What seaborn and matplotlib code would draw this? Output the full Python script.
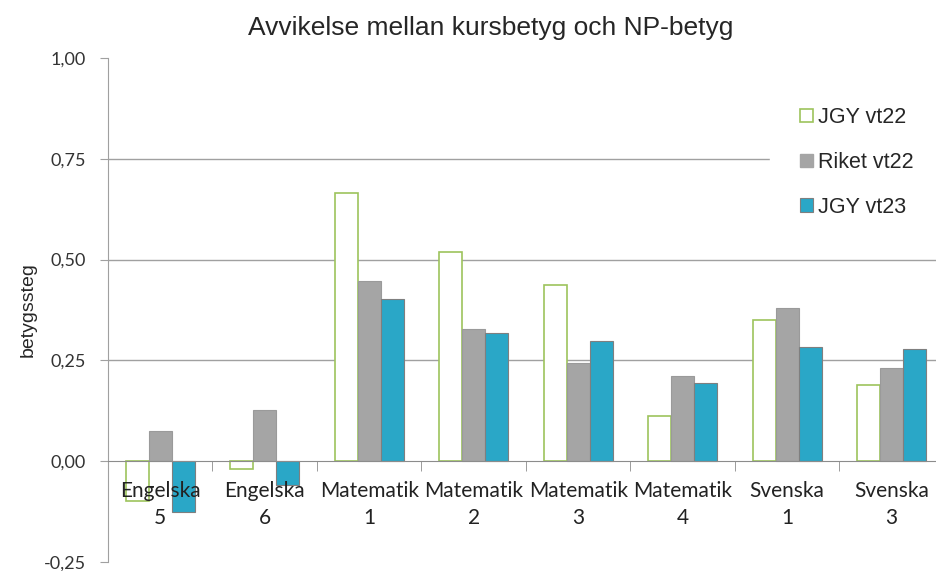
import pandas as pd
import seaborn as sns
import matplotlib.pyplot as plt
from matplotlib.patches import Patch

# data
categories = ["Engelska\n5", "Engelska\n6", "Matematik\n1", "Matematik\n2",
              "Matematik\n3", "Matematik\n4", "Svenska\n1", "Svenska\n3"]
series = ["JGY vt22", "Riket vt22", "JGY vt23"]
jgy_vt22 = [-0.10, -0.02, 0.666, 0.52, 0.438, 0.111, 0.349, 0.188]
riket_vt22 = [0.074, 0.126, 0.448, 0.327, 0.243, 0.21, 0.381, 0.23]
jgy_vt23 = [-0.126, -0.06, 0.403, 0.319, 0.297, 0.193, 0.282, 0.277]
yticks = [-0.25, 0.0, 0.25, 0.5, 0.75, 1.0]
ytick_labels = ["-0,25", "0,00", "0,25", "0,50", "0,75", "1,00"]

green = "#9dc35c"
grey = "#a5a5a5"
blue = "#2aa7c7"

df = pd.DataFrame({
    "kurs": categories * 3,
    "serie": [s for s in series for _ in categories],
    "varde": jgy_vt22 + riket_vt22 + jgy_vt23,
})

sns.set_style("white")
plt.rcParams['font.family'] = ['Liberation Sans', 'DejaVu Sans']

fig = plt.figure(figsize=(9.36, 5.71), dpi=100)
ax = fig.add_axes([0.1154, 0.0158, 0.893, 0.8827])

sns.barplot(data=df, x="kurs", y="varde", hue="serie", order=categories,
            hue_order=series, palette=["white", grey, blue], width=0.66,
            saturation=1, legend=False, ax=ax, zorder=2)

for cont, ec in zip(ax.containers, [green, "#9a9a9a", "#7f7f7f"]):
    for bar in cont:
        bar.set_edgecolor(ec)
        bar.set_linewidth(1.2 if ec == green else 0.8)

# gridlines behind bars
for y in [0.25, 0.5, 0.75]:
    ax.axhline(y, color="#a0a0a0", lw=1, zorder=0)

ax.set_ylim(-0.25, 1.0)
ax.set_xlim(-0.5, len(categories) - 0.5)
ax.set_yticks(yticks)
ax.set_yticklabels(ytick_labels, family=['Lato', 'DejaVu Sans'], fontsize=13, color="#333333")
ax.tick_params(axis="y", length=6, color="#a0a0a0", direction="out", pad=10, left=True)

# category labels sit at the zero line, ticks between categories
ax.spines["bottom"].set_position(("data", 0))
ax.spines["bottom"].set_color("#8c8c8c")
ax.spines["left"].set_color("#a0a0a0")
ax.spines["top"].set_visible(False)
ax.spines["right"].set_visible(False)
ax.set_xticks([i - 0.5 for i in range(1, len(categories))], minor=True)
ax.tick_params(axis="x", which="minor", length=7, color="#8c8c8c", direction="out", bottom=True)
ax.tick_params(axis="x", which="major", length=0, pad=14)
ax.set_xticklabels(categories, family=['Lato', 'DejaVu Sans'], fontsize=15,
                   color="#222222", linespacing=1.45)
ax.xaxis.set_zorder(3)

ax.set_xlabel("")
ax.set_ylabel("betygssteg", fontsize=14)
ax.yaxis.set_label_coords(-0.085, 0.5)

fig.suptitle("Avvikelse mellan kursbetyg och NP-betyg", fontsize=19, y=0.972, x=0.524)

handles = [Patch(facecolor="white", edgecolor=green, lw=1.2),
           Patch(facecolor=grey, edgecolor=grey),
           Patch(facecolor=blue, edgecolor="#7f7f7f", lw=0.8)]
leg = ax.legend(handles, series, loc="upper right", bbox_to_anchor=(1.0, 0.962),
                frameon=True, fontsize=15.5, handlelength=0.6, handleheight=0.6,
                handletextpad=0.25, labelspacing=1.1, borderpad=1.4, borderaxespad=0)
leg.get_frame().set_edgecolor("white")
leg.get_frame().set_facecolor("white")
leg.get_frame().set_alpha(1)
leg.set_zorder(5)

fig.savefig("out.png", dpi=100)
